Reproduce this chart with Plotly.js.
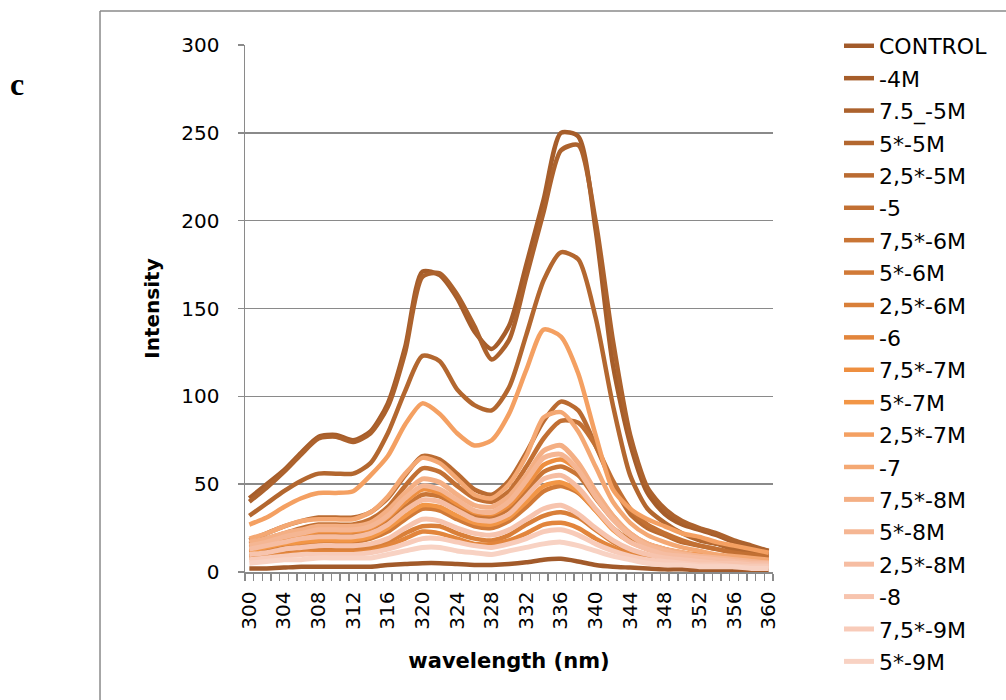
<!DOCTYPE html>
<html>
<head>
<meta charset="utf-8">
<script src="https://cdn.plot.ly/plotly-3.0.1.min.js"></script>
<style>
html,body{margin:0;padding:0;background:#fff;}
#chart{width:1006px;height:700px;}
</style>
</head>
<body>
<div id="chart"></div>
<script>
// wavelength (nm)
const wavelength = [300,302,304,306,308,310,312,314,316,318,320,322,324,326,328,330,332,334,336,338,340,342,344,346,348,350,352,354,356,358,360];

const seriesNames = ["CONTROL","-4M","7.5_-5M","5*-5M","2,5*-5M","-5","7,5*-6M","5*-6M","2,5*-6M","-6","7,5*-7M","5*-7M","2,5*-7M","-7","7,5*-8M","5*-8M","2,5*-8M","-8","7,5*-9M","5*-9M"];

const control   = [2,2,2.5,3,3,3,3,3,4,4.5,5,5,4.5,4,4,4.5,5.5,7,7.5,6,4,3,2.5,2,1.5,1.5,1,1,1,1,1];
const m4        = [42,50,58,68,77,78,75,80,96,128,171,169,156,137,127,140,175,212,250,248,195,118,73,45,33,27,24,21,17,14,12];
const m75_5     = [40,48,57,67,76,77,74,79,94,125,168,170,158,140,121,132,168,205,240,243,200,132,78,48,36,29,25,22,18,15,12];
const m5_5      = [32,39,46,52,56,56,56,62,79,103,123,120,104,95,92,105,135,166,182,178,145,95,55,36,28,22,18,16,13,11,10];
const m25_5     = [18,22,26,29,31,31,31,34,42,55,66,64,56,47,44,52,68,86,97,92,72,50,33,25,21,17,15,13,11,9,8];
const m_5       = [16,19,22,25,27,27,27,30,37,49,59,57,49,42,40,46,60,76,86,85,72,52,36,27,22,18,15,13,11,10,9];
const m75_6     = [14,16,18,20,22,22,22,24,29,37,44,43,37,32,31,36,46,57,60,55,42,30,21,16,13,11,9,8,7,6,5];
const m5_6      = [11,13,15,16,17,17,17,19,23,30,36,35,30,26,25,29,37,46,49,45,35,25,18,13,11,9,8,7,6,5,5];
const m25_6     = [9,10,11,12,13,13,13,14,17,22,26,26,22,19,18,21,27,32,34,31,24,17,12,9,8,7,6,5,5,4,4];
const m_6       = [8,9,10,11,11,11,11,12,15,19,23,22,19,16,16,18,22,27,28,25,19,14,10,8,7,6,5,5,4,4,3];
const m75_7     = [15,17,19,21,23,23,23,25,31,40,47,45,39,34,33,38,49,61,64,58,45,32,22,16,13,11,10,9,8,7,6];
const m5_7      = [12,14,16,17,18,18,18,20,25,32,38,37,32,28,27,31,40,49,51,46,35,24,17,13,10,9,8,7,6,5,4];
const m25_7     = [27,31,37,42,45,45,46,55,66,84,96,90,79,72,75,90,115,138,134,113,78,47,36,30,26,22,20,17,15,13,11];
const m_7       = [19,22,26,29,30,30,30,34,43,56,65,62,53,44,42,50,66,88,91,80,60,40,28,21,17,14,12,10,9,8,7];
const m75_8     = [17,19,22,24,26,26,26,28,35,45,53,51,44,38,37,43,55,69,72,62,46,32,22,16,13,11,9,8,7,6,5];
const m5_8      = [15,17,20,22,24,24,24,26,32,42,49,47,41,35,34,40,52,65,67,58,43,30,21,15,12,10,9,8,7,6,5];
const m25_8     = [13,15,17,19,20,20,20,22,27,35,41,40,35,30,29,33,43,53,55,48,36,25,17,13,10,9,8,7,6,5,5];
const m_8       = [10,11,13,14,15,15,15,16,19,25,30,29,25,22,21,24,30,36,38,33,25,18,13,10,8,7,6,5,5,4,4];
const m75_9     = [7,8,9,10,10,10,10,11,13,16,19,19,17,15,14,16,19,23,24,21,16,12,9,7,6,5,4,4,3,3,3];
const m5_9      = [5,6,7,7,8,8,8,8,10,12,14,14,12,11,10,12,14,16,17,15,12,9,7,5,4,4,3,3,3,2,2];

const seriesValues = [control,m4,m75_5,m5_5,m25_5,m_5,m75_6,m5_6,m25_6,m_6,m75_7,m5_7,m25_7,m_7,m75_8,m5_8,m25_8,m_8,m75_9,m5_9];

const xTickVals = [300,304,308,312,316,320,324,328,332,336,340,344,348,352,356,360];
const xTickText = ["300","304","308","312","316","320","324","328","332","336","340","344","348","352","356","360"];
const yTickVals = [0,50,100,150,200,250,300];

const colors = ["#A25A2A","#A65D2A","#AC622D","#B3672F","#BA6B31","#C27033","#C97535","#D17A37","#D97F39","#E2853C","#EE8F40","#F29646","#F4A062","#F4A873","#F4AF84","#F5B693","#F6BDA2","#F7C4AE","#F8CBB9","#F8D2C3"];

const traces = seriesNames.map((name,i)=>({
  type:'scatter', mode:'lines', name:name,
  x: wavelength, y: seriesValues[i],
  legendgroup:'g'+i,
  line:{color:colors[i], width: i>=14 ? 5 : 4.5, shape:'spline', smoothing:0.7},
  hoverinfo:'skip'
}));

const gridCol = '#8a8a8a';
const layout = {
  width:1006, height:700,
  margin:{l:245, r:233, t:45, b:128, pad:0},
  paper_bgcolor:'#fff', plot_bgcolor:'#fff',
  font:{family:'DejaVu Sans', color:'#000'},
  showlegend:true,
  legend:{
    x:1.125, y:1.038, xanchor:'left', yanchor:'top',
    font:{family:'DejaVu Sans', size:22, color:'#000'},
    tracegroupgap:0.8, borderwidth:0, bgcolor:'rgba(0,0,0,0)',
    maxheight:695
  },
  xaxis:{
    range:[299.5,360.5],
    tickmode:'array', tickvals:xTickVals, ticktext:xTickText,
    tickangle:-90, ticks:'',
    tickfont:{family:'DejaVu Sans', size:20, color:'#000'},
    ticklabelstandoff:10,
    minor:{tick0:299.5, dtick:1, ticks:'outside', ticklen:7, tickcolor:gridCol, tickwidth:1.5, showgrid:false},
    showline:true, linecolor:gridCol, linewidth:1.5,
    showgrid:false, zeroline:false,
    title:{text:'<b>wavelength (nm)</b>', font:{family:'DejaVu Sans', size:21, color:'#000'}, standoff:24}
  },
  yaxis:{
    range:[0,300],
    tickmode:'array', tickvals:yTickVals,
    ticks:'outside', ticklen:6, tickcolor:gridCol, tickwidth:1.5,
    tickfont:{family:'DejaVu Sans', size:20, color:'#000'},
    ticklabelstandoff:14,
    showline:true, linecolor:gridCol, linewidth:1.5,
    showgrid:true, gridcolor:gridCol, gridwidth:1.5, zeroline:false,
    title:{text:'<b>Intensity</b>', font:{family:'DejaVu Sans', size:20, color:'#000'}, standoff:16}
  },
  shapes:[
    {type:'line', xref:'paper', yref:'paper', x0:-0.2746, x1:-0.2746, y0:-0.25, y1:1.0645, line:{color:'#8a8a8a', width:1.5}},
    {type:'line', xref:'paper', yref:'paper', x0:-0.2746, x1:1.45, y0:1.0645, y1:1.0645, line:{color:'#8a8a8a', width:1.5}}
  ],
  annotations:[
    {text:'<b>c</b>', xref:'paper', yref:'paper', x:-0.449, y:0.926, xanchor:'left', yanchor:'middle', showarrow:false,
     font:{family:'Liberation Serif', size:32, color:'#000'}}
  ]
};

Plotly.newPlot('chart', traces, layout, {displayModeBar:false, staticPlot:true});
</script>
</body>
</html>
